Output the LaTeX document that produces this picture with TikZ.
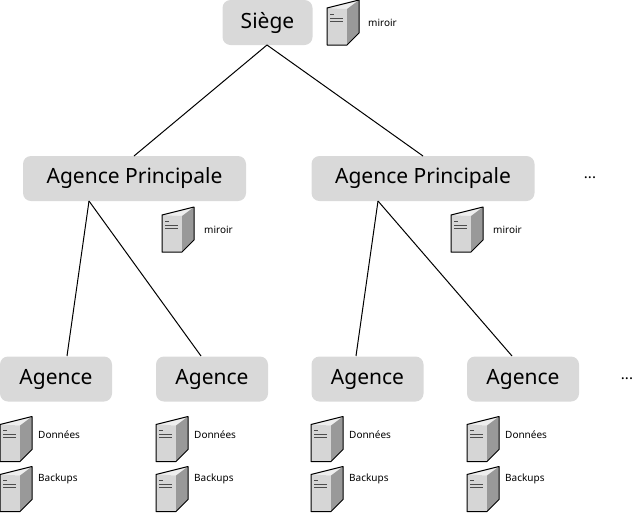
\documentclass[tikz,border=0pt]{standalone}
\usepackage{fontspec}
\setmainfont{Noto Sans}
\definecolor{boxgray}{HTML}{D9D9D9}
\definecolor{frontgray}{HTML}{D6D6D6}
\definecolor{sidegray}{HTML}{999999}
\definecolor{topgray}{HTML}{EEEEEE}
\tikzset{
  x=1pt,y=-1pt,
  bigbox/.style={fill=boxgray,rounded corners=8pt,inner sep=0pt,text=black,font=\fontsize{21}{24}\selectfont,anchor=center},
  small/.style={font=\fontsize{10}{12}\selectfont,anchor=west,inner sep=0pt},
  dots/.style={font=\fontsize{15}{18}\selectfont,inner sep=0pt},
  link/.style={draw=black,line width=1pt},
  server/.pic={
    \fill[topgray] (0,8) -- (32,0) -- (20,9) -- cycle;
    \fill[frontgray] (0,8) -- (20,9) -- (20,45) -- (0,45) -- cycle;
    \fill[sidegray] (20,9) -- (32,0) -- (32,33) -- (20,45) -- cycle;
    \draw[line width=1pt,line join=round] (0,8) -- (32,0) -- (32,33) -- (20,45) -- (0,45) -- cycle;
    \draw[line width=.5pt,black!70] (3,14) -- (7,14) (3,18) -- (16,18) (3,21) -- (16,21);
  }
}
\newcommand{\bigbox}[6]{\node[bigbox,minimum width=#3pt,minimum height=#4pt] (#1) at (#2) {#5};}
\begin{document}
\begin{tikzpicture}
\useasboundingbox (0,0) rectangle (634,512);
\node[bigbox,minimum width=90pt,minimum height=45pt] (siege) at (267.5,22.5) {Siège};
\node[bigbox,minimum width=223pt,minimum height=45pt] (ap1) at (134.5,178.5) {Agence Principale};
\node[bigbox,minimum width=223pt,minimum height=45pt] (ap2) at (423,178.5) {Agence Principale};
\node[bigbox,minimum width=112pt,minimum height=45pt] (a1) at (56,379) {Agence};
\node[bigbox,minimum width=112pt,minimum height=45pt] (a2) at (212,379) {Agence};
\node[bigbox,minimum width=112pt,minimum height=45pt] (a3) at (367.5,379) {Agence};
\node[bigbox,minimum width=112pt,minimum height=45pt] (a4) at (523,379) {Agence};
\coordinate (s1) at (267,45);
\coordinate (p1t) at (134,156);
\coordinate (p2t) at (423,156);
\coordinate (p1b) at (89,201);
\coordinate (p2b) at (378,201);
\coordinate (a1t) at (67,356);
\coordinate (a2t) at (201,356);
\coordinate (a3t) at (356,356);
\coordinate (a4t) at (512,356);
\draw[link] (s1) -- (p1t);
\draw[link] (s1) -- (p2t);
\draw[link] (p1b) -- (a1t);
\draw[link] (p1b) -- (a2t);
\draw[link] (p2b) -- (a3t);
\draw[link] (p2b) -- (a4t);
\pic at (327,0) {server};
\pic at (162,207) {server};
\pic at (451,207) {server};
\node[small] (m0) at (368,22.5) {miroir};
\node[small] (m1) at (204,230) {miroir};
\node[small] (m2) at (493,230) {miroir};
\foreach \x [count=\i] in {0,156,311,467}{
  \pic at (\x,416.5) {server};
  \pic at (\x,466.5) {server};
  \node[small] (d\i) at (\x+38,434.5) {Données};
  \node[small] (b\i) at (\x+38,478.5) {Backups};
}
\node[dots] (dots1) at (590,178) {...};
\node[dots] (dots2) at (627,379) {...};
\end{tikzpicture}
\end{document}
